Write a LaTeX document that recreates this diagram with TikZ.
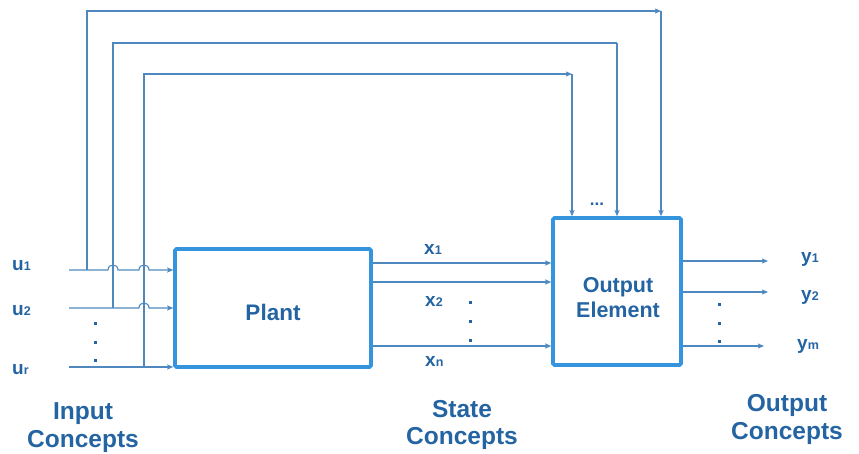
\documentclass[tikz,border=0pt]{standalone}
\usepackage{fontspec}
\setmainfont{Liberation Sans}
\usetikzlibrary{arrows.meta}
\definecolor{labelblue}{RGB}{36,100,162}
\definecolor{boxblue}{RGB}{52,148,222}
\definecolor{wireblue}{RGB}{78,136,190}
\newcommand\subs[1]{{\fontsize{12.5}{12.5}\selectfont #1}}
\begin{document}
\begin{tikzpicture}[x=1pt,y=-1pt,
  wire/.style={draw=wireblue,line width=1.1pt},
  arr/.style={wire,-{Stealth[length=6pt,width=5pt,inset=1pt]}},
  block/.style={draw=boxblue,line width=3.6pt,rounded corners=1.5pt},
  lbl/.style={text=labelblue,font=\bfseries\fontsize{19}{19}\selectfont,anchor=base west,inner sep=0pt},
  title/.style={text=labelblue,font=\bfseries\fontsize{22.5}{22.5}\selectfont,inner sep=0pt},
  caption/.style={text=labelblue,font=\bfseries\fontsize{24.5}{27.5}\selectfont,align=center,inner sep=0pt},
  dotmark/.style={rectangle,fill=labelblue,inner sep=0pt,minimum size=3pt}]
\useasboundingbox (0,0) rectangle (859,454);

% blocks
\node[block,minimum width=196pt,minimum height=118pt] (plant) at (273,308) {};
\node[title,anchor=base] (plantlbl) at (273,320) {Plant};
\node[block,minimum width=128pt,minimum height=147pt] (outel) at (617,291.5) {};
\node[title,font=\bfseries\fontsize{21.5}{25}\selectfont,align=center] (outlbl) at (618,298) {Output\\Element};

% input signals
\node[lbl] (u1) at (12,270.5) {u\subs{1}};
\node[lbl] (u2) at (12,315) {u\subs{2}};
\node[lbl] (ur) at (12,374) {u\subs{r}};
\coordinate (u1in) at (69,270);
\coordinate (u2in) at (69,308);
\coordinate (urin) at (69,367);
\node[dotmark] (ud1) at (95,323) {};
\node[dotmark] (ud2) at (95,342) {};
\node[dotmark] (ud3) at (95,360) {};

% input wires with hops over the feedforward branches
\draw[arr] (u1in) -- (108,270) .. controls +(0,-6.7) and +(0,-6.7) .. (118,270)
  -- (139,270) .. controls +(0,-6.7) and +(0,-6.7) .. (149,270) -- (plant.west |- u1in);
\draw[arr] (u2in) -- (139,308) .. controls +(0,-6.7) and +(0,-6.7) .. (149,308)
  -- (plant.west |- u2in);
\draw[arr] (urin) -- (plant.west |- urin);

% feedforward branches to the output element
\coordinate (j1) at (87,270);
\coordinate (j2) at (113,308);
\coordinate (j3) at (144,367);
\coordinate (k1) at (661,11);
\coordinate (k2) at (617,43);
\coordinate (k3) at (572,74);
\draw[arr] (j1) |- (k1);
\draw[arr] (k1) -- (outel.north -| k1);
\draw[wire] (j2) |- (k2);
\draw[arr] (k2) -- (outel.north -| k2);
\draw[arr] (j3) |- (k3);
\draw[arr] (k3) -- (outel.north -| k3);
\node[text=labelblue,font=\bfseries\fontsize{17}{17}\selectfont,inner sep=0pt] (more) at (597,204) {...};

% state signals
\coordinate (s1) at (460,263);
\coordinate (s2) at (460,282);
\coordinate (sn) at (460,346);
\draw[arr] (plant.east |- s1) -- (outel.west |- s1);
\draw[arr] (plant.east |- s2) -- (outel.west |- s2);
\draw[arr] (plant.east |- sn) -- (outel.west |- sn);
\node[lbl] (x1) at (424,255) {x\subs{1}};
\node[lbl] (x2) at (425,306) {x\subs{2}};
\node[lbl] (xn) at (425,366) {x\subs{n}};
\node[dotmark] (xd1) at (470,302) {};
\node[dotmark] (xd2) at (470,321) {};
\node[dotmark] (xd3) at (470,340) {};

% output signals
\coordinate (y1e) at (768,261);
\coordinate (y2e) at (768,292);
\coordinate (yme) at (764,346);
\draw[arr] (outel.east |- y1e) -- (y1e);
\draw[arr] (outel.east |- y2e) -- (y2e);
\draw[arr] (outel.east |- yme) -- (yme);
\node[lbl] (y1) at (801,262) {y\subs{1}};
\node[lbl] (y2) at (801,301) {y\subs{2}};
\node[lbl] (ym) at (797,349) {y\subs{m}};
\node[dotmark] (yd1) at (719,304) {};
\node[dotmark] (yd2) at (719,323) {};
\node[dotmark] (yd3) at (719,341) {};

% group captions
\node[caption] (capin) at (83,427.5) {Input\\Concepts};
\node[caption] (capst) at (462,425) {State\\Concepts};
\node[caption] (capout) at (787,419.5) {Output\\Concepts};
\end{tikzpicture}
\end{document}
